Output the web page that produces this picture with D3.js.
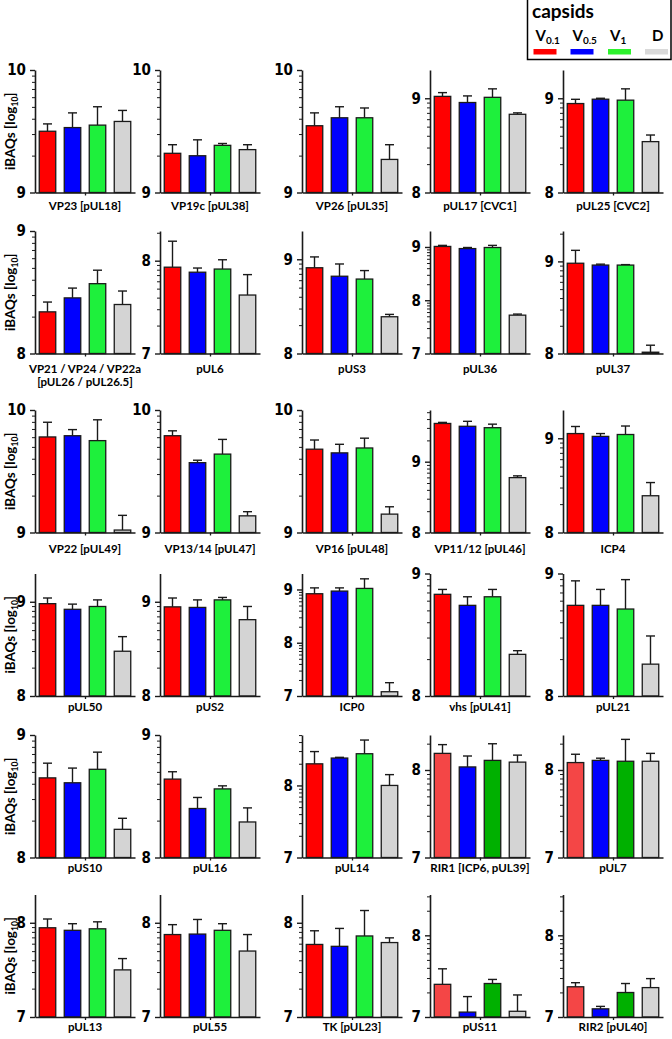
<!DOCTYPE html>
<html><head><meta charset="utf-8">
<script src="https://cdn.jsdelivr.net/npm/d3@7"></script>
<style>body{margin:0;background:#fff}svg{display:block}</style>
</head><body>
<svg id="c" width="672" height="1039"></svg>
<script>
// ---------- data ----------
const proteins = [
  "VP23 [pUL18]","VP19c [pUL38]","VP26 [pUL35]","pUL17 [CVC1]","pUL25 [CVC2]",
  "VP21 / VP24 / VP22a\n[pUL26 / pUL26.5]","pUL6","pUS3","pUL36","pUL37",
  "VP22 [pUL49]","VP13/14 [pUL47]","VP16 [pUL48]","VP11/12 [pUL46]","ICP4",
  "pUL50","pUS2","ICP0","vhs [pUL41]","pUL21",
  "pUS10","pUL16","pUL14","RIR1 [ICP6, pUL39]","pUL7",
  "pUL13","pUL55","TK [pUL23]","pUS11","RIR2 [pUL40]"
];
const seriesNames = ["V0.1","V0.5","V1","D"];
const meanV01 = [9.50,9.32,9.545,9.02,8.944, 8.34,7.93,8.91,9.01,8.98, 9.78,9.79,9.68,9.54,9.05,
                 8.98,8.946,8.92,8.83,8.74, 8.65,8.64,8.30,8.19,8.085, 7.947,7.875,7.77,7.40,7.37];
const meanV05 = [9.53,9.30,9.61,8.955,8.99, 8.454,7.876,8.82,8.97,8.96, 9.79,9.57,9.65,9.50,9.02,
                 8.92,8.94,8.97,8.74,8.74, 8.61,8.40,8.38,8.035,8.11, 7.92,7.88,7.75,7.06,7.10];
const meanV1  = [9.55,9.385,9.61,9.01,8.98, 8.57,7.91,8.79,8.99,8.96, 9.75,9.64,9.69,9.48,9.04,
                 8.95,9.02,9.02,8.81,8.71, 8.72,8.56,8.44,8.11,8.10, 7.936,7.92,7.86,7.41,7.30];
const meanD   = [9.58,9.35,9.27,8.83,8.54, 8.40,7.63,8.39,7.72,8.014, 9.02,9.136,9.15,8.775,8.39,
                 8.475,8.81,7.08,8.34,8.26, 8.23,8.29,8.00,8.09,8.10, 7.50,7.70,7.79,7.07,7.36];
const sdV01 = [0.06,0.07,0.105,0.04,0.045, 0.08,0.28,0.115,0.02,0.14, 0.12,0.04,0.075,0.015,0.075,
               0.06,0.094,0.11,0.04,0.20, 0.12,0.06,0.17,0.10,0.095, 0.093,0.105,0.145,0.19,0.05];
const sdV05 = [0.12,0.13,0.09,0.07,0.01, 0.08,0.045,0.13,0.02,0.01, 0.05,0.02,0.07,0.07,0.03,
               0.055,0.08,0.06,0.07,0.13, 0.12,0.09,0.01,0.125,0.025, 0.07,0.155,0.19,0.19,0.03];
const sdV1  = [0.15,0.015,0.08,0.09,0.12, 0.11,0.10,0.09,0.04,0.005, 0.17,0.12,0.08,0.05,0.09,
               0.07,0.026,0.18,0.06,0.24, 0.14,0.025,0.19,0.19,0.25, 0.074,0.07,0.27,0.05,0.11];
const sdD   = [0.09,0.04,0.12,0.015,0.07, 0.11,0.22,0.025,0.02,0.076, 0.12,0.034,0.06,0.025,0.14,
               0.155,0.14,0.17,0.03,0.23, 0.09,0.115,0.15,0.08,0.09, 0.12,0.175,0.05,0.20,0.11];
const axisLow  = [9,9,9,8,8, 8,7,8,7,8, 9,9,9,8,8, 8,8,7,8,8, 8,8,7,7,7, 7,7,7,7,7];
const axisHigh = [10,10,10,9.3,9.3, 9,8.32,9.3,9.3,9.33, 10,10,10,9.73,9.3,
                  9.3,9.3,9.3,9,9, 9,9,8.7,8.4,8.4, 8.3,8.3,8.3,8.5,8.5];
const mutedPanels = ["RIR1 [ICP6, pUL39]","pUL7","pUS11","RIR2 [pUL40]"];
const legendLabels = [["V","0.1"],["V","0.5"],["V","1"],["D",""]];

// ---------- styling / layout ----------
const palette = ["#ff0000","#0000ff","#1ef03c","#d4d4d4"];
const paletteMuted = ["#f44646","#0000ff","#00b000","#d4d4d4"];
const legendColors = ["#ff0000","#0000ff","#2ef22e","#d9d9d9"];
const colX = [35,160,302,430,563];
const rowTop = [70,231,410,573.5,735,894.5];
const labelY = [206.5,370,550,707.5,869,1027.5];
const W = 100, H = 122.5;
const ink = "#1a1a1a";
const tickFont = "'Liberation Sans Narrow','DejaVu Sans Condensed','Arial Narrow',sans-serif";
const labFont = "Lato,'Open Sans',sans-serif";

const svg = d3.select("#c");

proteins.forEach((name, i) => {
  const r = Math.floor(i / 5), c = i % 5;
  const g = svg.append("g").attr("transform", `translate(${colX[c]},${rowTop[r]})`);
  const lo = axisLow[i], hi = axisHigh[i];
  const y = d3.scaleLinear().domain([lo, hi]).range([H, 0]);
  const x = d3.scaleBand().domain(seriesNames).range([0, W]).paddingInner(0.34).paddingOuter(0.17);
  const rows = seriesNames.map((s, j) => ({
    s, v: [meanV01, meanV05, meanV1, meanD][j][i], e: [sdV01, sdV05, sdV1, sdD][j][i],
    col: (mutedPanels.includes(name) ? paletteMuted : palette)[j]
  }));

  // error bars (upper only)
  const eb = g.append("g").attr("stroke", ink).attr("stroke-width", 1.4);
  eb.selectAll("line.v").data(rows).join("line").attr("class","v")
    .attr("x1", d => x(d.s) + x.bandwidth()/2).attr("x2", d => x(d.s) + x.bandwidth()/2)
    .attr("y1", d => y(d.v)).attr("y2", d => y(d.v + d.e));
  eb.selectAll("line.c").data(rows).join("line").attr("class","c")
    .attr("x1", d => x(d.s) + x.bandwidth()/2 - 4.5).attr("x2", d => x(d.s) + x.bandwidth()/2 + 4.5)
    .attr("y1", d => y(d.v + d.e)).attr("y2", d => y(d.v + d.e));

  // bars
  g.selectAll("rect.bar").data(rows).join("rect").attr("class","bar")
    .attr("x", d => x(d.s)).attr("width", x.bandwidth())
    .attr("y", d => y(d.v)).attr("height", d => H - y(d.v))
    .attr("fill", d => d.col).attr("stroke", ink).attr("stroke-width", 1.3);

  // minor ticks (log positions)
  const minors = [];
  for (let dec = Math.floor(lo); dec < hi; dec++)
    for (let k = 2; k <= 9; k++) { const t = dec + Math.log10(k); if (t > lo && t < hi) minors.push(t); }
  const minorAxis = g.append("g").call(d3.axisLeft(y).tickValues(minors).tickSize(3).tickSizeOuter(0).tickFormat(""));
  minorAxis.select(".domain").remove();
  minorAxis.selectAll("line").attr("stroke", ink).attr("stroke-width", 1);

  // major axis
  const majors = d3.range(Math.ceil(lo), Math.floor(hi) + 1);
  const ya = g.append("g").call(d3.axisLeft(y).tickValues(majors).tickFormat(d3.format("d"))
      .tickSize(5).tickSizeOuter(0).tickPadding(4));
  ya.select(".domain").attr("stroke", ink).attr("stroke-width", 1.6);
  ya.selectAll("line").attr("stroke", ink).attr("stroke-width", 1.4);
  ya.selectAll("text").attr("font-family", tickFont).attr("font-weight", "bold")
    .attr("font-size", 15).attr("fill", "#000");

  // x axis with center tick
  const xs = d3.scaleLinear().domain([0, 1]).range([0, W]);
  const xa = g.append("g").attr("transform", `translate(0,${H})`)
    .call(d3.axisBottom(xs).tickValues([0.5]).tickSize(3).tickSizeOuter(0).tickFormat(""));
  xa.select(".domain").attr("stroke", ink).attr("stroke-width", 1.6);
  xa.selectAll("line").attr("stroke", ink).attr("stroke-width", 1.3);

  // label
  const lines = name.split("\n");
  const t = svg.append("text").attr("x", colX[c] + W/2).attr("y", labelY[r])
    .attr("text-anchor", "middle").attr("dominant-baseline", "middle")
    .attr("font-family", labFont).attr("font-weight", 700).attr("font-size", 11.5).attr("fill", "#000");
  lines.forEach((ln, k) => t.append("tspan").attr("x", colX[c] + W/2).attr("dy", k === 0 ? 0 : 13).text(ln));

  // y axis title for first column
  if (c === 0) {
    const yt = svg.append("text")
      .attr("transform", `translate(14.5,${rowTop[r] + H/2}) rotate(-90)`)
      .attr("text-anchor", "middle").attr("font-family", labFont).attr("font-weight", 700)
      .attr("font-size", 13.5).attr("fill", "#000");
    yt.append("tspan").text("iBAQs [log");
    yt.append("tspan").attr("font-size", 8.5).attr("dy", 3).text("10");
    yt.append("tspan").attr("dy", -3).text("]");
  }
});

// ---------- legend ----------
const lg = svg.append("g");
lg.append("rect").attr("x", 527.5).attr("y", -1).attr("width", 143.5).attr("height", 60.5)
  .attr("fill", "#fff").attr("stroke", "#000").attr("stroke-width", 1.5);
lg.append("text").attr("x", 532).attr("y", 18).attr("font-family", labFont).attr("font-weight", 700)
  .attr("font-size", 19).attr("fill", "#000").text("capsids");
const legX = [533.5, 570.5, 608, 645];
legendLabels.forEach((lab, j) => {
  const tx = lg.append("text").attr("x", legX[j] + (j === 3 ? 7 : 2)).attr("y", 41)
    .attr("font-family", labFont).attr("font-weight", 700).attr("font-size", 15).attr("fill", "#000");
  tx.append("tspan").text(lab[0]);
  if (lab[1]) tx.append("tspan").attr("font-size", 10).attr("dy", 3).text(lab[1]);
  lg.append("rect").attr("x", legX[j]).attr("y", 49).attr("width", 23).attr("height", 5.5)
    .attr("fill", legendColors[j]);
});
</script>
</body></html>
